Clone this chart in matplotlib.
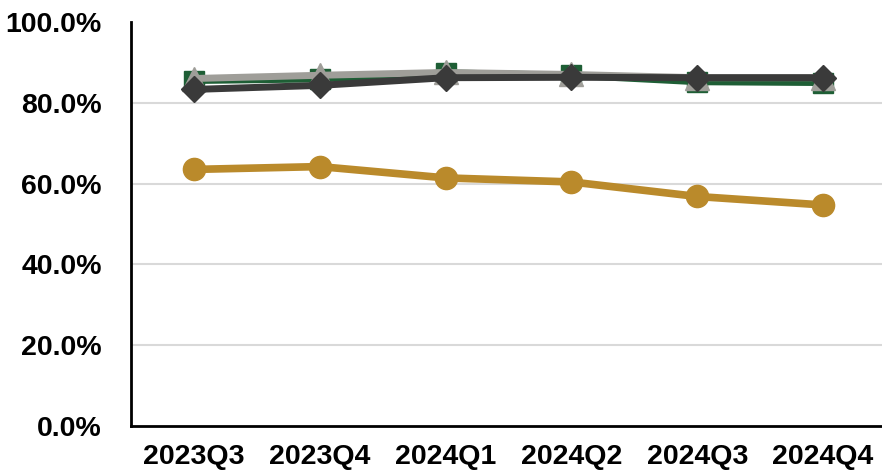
import matplotlib.pyplot as plt
from matplotlib.ticker import FuncFormatter

quarters = ['2023Q3', '2023Q4', '2024Q1', '2024Q2', '2024Q3', '2024Q4']
gold_vals = [63.5, 64.2, 61.4, 60.4, 56.8, 54.7]
green_vals = [85.5, 85.9, 87.4, 86.8, 85.2, 85.0]
gray_vals = [86.0, 86.8, 87.5, 87.0, 86.2, 86.2]
dark_vals = [83.3, 84.3, 86.2, 86.3, 86.2, 86.2]

plt.rcParams['font.family'] = ['Liberation Sans', 'DejaVu Sans']

fig = plt.figure(figsize=(8.82, 4.72), dpi=100)
ax = fig.add_axes([131 / 882, 0.0975, 755 / 882, 0.856])

x = range(len(quarters))
ax.plot(x, gold_vals, color='#BA8A2B', lw=5.5, marker='o', ms=16, zorder=3)
ax.plot(x, green_vals, color='#1E5E35', lw=5, marker='s', ms=15, zorder=4)
ax.plot(x, gray_vals, color='#9F9E99', lw=5, marker='^', ms=17, zorder=5)
ax.plot(x, dark_vals, color='#3A3A3A', lw=5, marker='D', ms=13, zorder=6)

ax.set_xlim(-0.5, len(quarters) - 0.5)
ax.set_ylim(0, 100)
ax.set_yticks([0, 20, 40, 60, 80, 100])
ax.yaxis.set_major_formatter(FuncFormatter(lambda v, p: '%.1f%%' % v))
ax.set_xticks(list(x))
ax.set_xticklabels(quarters)

for v in [20, 40, 60, 80]:
    ax.axhline(v, color='#D9D9D9', lw=1.5, zorder=1)

for s in ['top', 'right']:
    ax.spines[s].set_visible(False)
for s in ['left', 'bottom']:
    ax.spines[s].set_linewidth(2)
    ax.spines[s].set_color('black')

ax.tick_params(length=0, labelsize=20.5)
for lbl in ax.get_xticklabels() + ax.get_yticklabels():
    lbl.set_fontweight('bold')
ax.tick_params(axis='y', pad=21)
ax.tick_params(axis='x', pad=13)

fig.savefig('out.png', dpi=100)
